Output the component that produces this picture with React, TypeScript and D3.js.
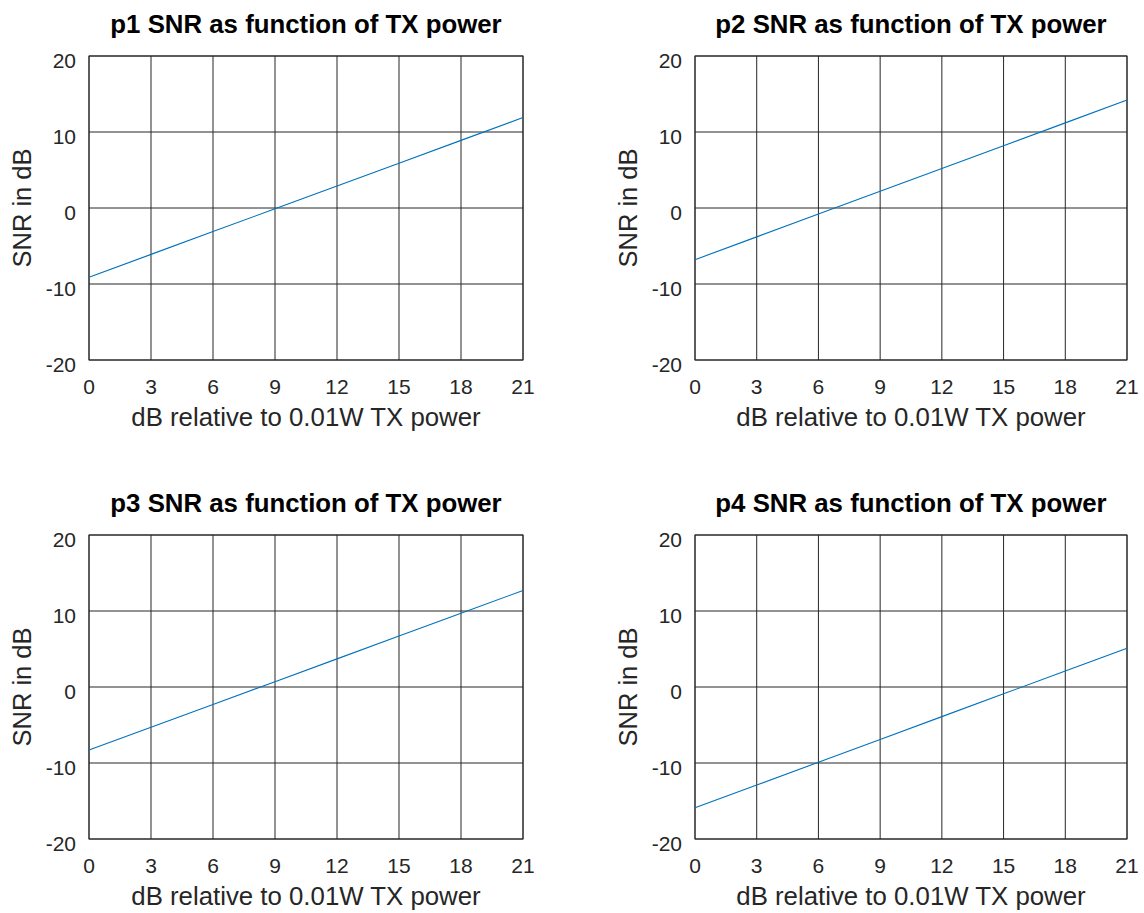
import React from "react";
import * as d3 from "d3";

// TX power offsets (dB relative to 0.01 W) at which the SNR was evaluated
const txPower = [0, 3, 6, 9, 12, 15, 18, 21];

// SNR in dB for each position
const snrP1 = [-9.1, -6.1, -3.1, -0.1, 2.9, 5.9, 8.9, 11.9];
const snrP2 = [-6.8, -3.8, -0.8, 2.2, 5.2, 8.2, 11.2, 14.2];
const snrP3 = [-8.3, -5.3, -2.3, 0.7, 3.7, 6.7, 9.7, 12.7];
const snrP4 = [-15.9, -12.9, -9.9, -6.9, -3.9, -0.9, 2.1, 5.1];

const positionNames = ["p1", "p2", "p3", "p4"];
const xTicks = [0, 3, 6, 9, 12, 15, 18, 21];
const yTicks = [-20, -10, 0, 10, 20];

const W = 1144;
const H = 913;
const FONT = "'Liberation Sans', Arial, Helvetica, sans-serif";

type PanelProps = {
  name: string;
  values: number[];
  left: number;
  right: number;
  top: number;
  bottom: number;
};

function Panel({ name, values, left, right, top, bottom }: PanelProps) {
  const x = d3.scaleLinear().domain([0, 21]).range([left, right]);
  const y = d3.scaleLinear().domain([-20, 20]).range([bottom, top]);
  const line = d3
    .line<number>()
    .x((_, i) => x(txPower[i]))
    .y((d) => y(d));
  const cx = (left + right) / 2;
  const cy = (top + bottom) / 2;
  const gridColor = "#262626";

  return (
    <g>
      <rect x={left} y={top} width={right - left} height={bottom - top} fill="#fff" />
      {xTicks.map((t) => (
        <line key={"gx" + t} x1={x(t)} x2={x(t)} y1={top} y2={bottom} stroke={gridColor} strokeWidth={1} />
      ))}
      {yTicks.map((t) => (
        <line key={"gy" + t} x1={left} x2={right} y1={y(t)} y2={y(t)} stroke={gridColor} strokeWidth={1} />
      ))}
      <rect x={left} y={top} width={right - left} height={bottom - top} fill="none" stroke={gridColor} strokeWidth={1} />
      <path d={line(values) ?? ""} fill="none" stroke="#0072BD" strokeWidth={1.1} />
      {xTicks.map((t) => (
        <text key={"tx" + t} x={x(t)} y={bottom + 34} textAnchor="middle" fontSize={21} fill="#262626">
          {t}
        </text>
      ))}
      {yTicks.map((t) => (
        <text key={"ty" + t} x={left - 13} y={y(t) + 11.5} textAnchor="end" fontSize={21} fill="#262626">
          {t}
        </text>
      ))}
      <text x={cx} y={top - 23} textAnchor="middle" fontSize={25.8} fontWeight="bold" fill="#000">
        {name} SNR as function of TX power
      </text>
      <text x={cx} y={bottom + 66} textAnchor="middle" fontSize={25.8} fill="#262626">
        dB relative to 0.01W TX power
      </text>
      <text
        transform={`translate(${left - 58},${cy}) rotate(-90)`}
        textAnchor="middle"
        fontSize={25.5}
        fill="#262626"
      >
        SNR in dB
      </text>
    </g>
  );
}

export default function App() {
  const series = [snrP1, snrP2, snrP3, snrP4];
  const cols = [
    [89, 523],
    [695, 1127],
  ];
  const rows = [
    [56, 360],
    [535, 839],
  ];
  return (
    <svg
      width={W}
      height={H}
      style={{ position: "absolute", left: 0, top: 0, background: "#fff", fontFamily: FONT }}
    >
      <rect width={W} height={H} fill="#fff" />
      {series.map((vals, i) => {
        const [l, r] = cols[i % 2];
        const [t, b] = rows[Math.floor(i / 2)];
        return (
          <Panel key={positionNames[i]} name={positionNames[i]} values={vals} left={l} right={r} top={t} bottom={b} />
        );
      })}
    </svg>
  );
}
